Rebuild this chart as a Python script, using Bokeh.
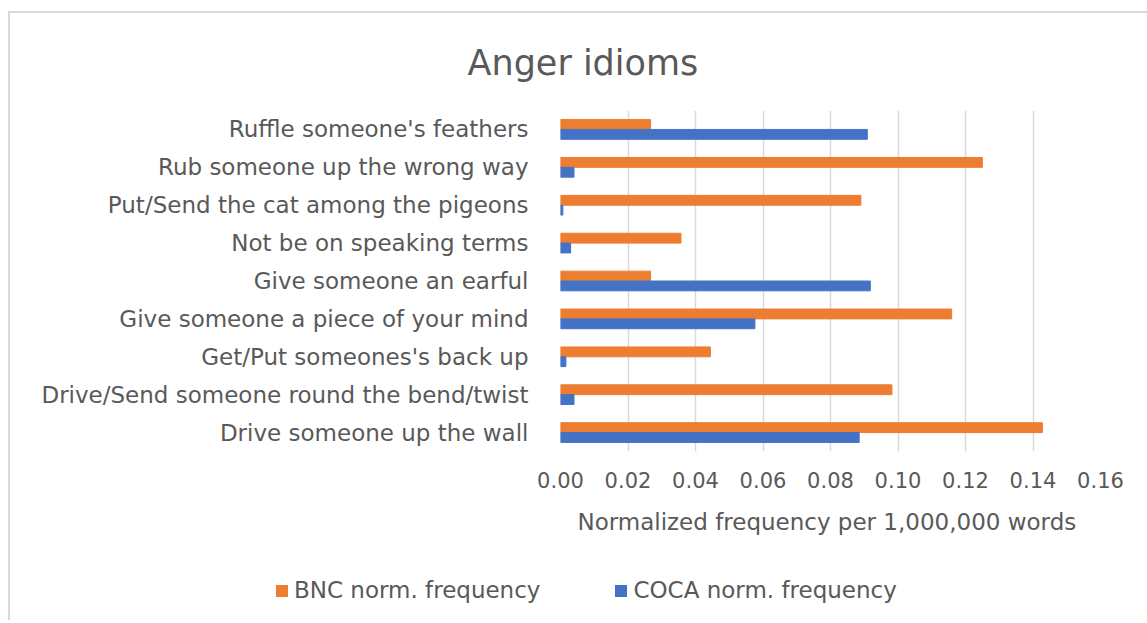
from bokeh.plotting import figure
from bokeh.layouts import column
from bokeh.models import FactorRange, Legend, LegendItem, ColumnDataSource, NumeralTickFormatter, FixedTicker, Title
from bokeh.transform import dodge
from bokeh.embed import file_html
from bokeh.resources import INLINE

categories = [
    "Ruffle someone's feathers",
    "Rub someone up the wrong way",
    "Put/Send the cat among the pigeons",
    "Not be on speaking terms",
    "Give someone an earful",
    "Give someone a piece of your mind",
    "Get/Put someones's back up",
    "Drive/Send someone round the bend/twist",
    "Drive someone up the wall",
]
bnc = [0.0267, 0.125, 0.089, 0.0357, 0.0267, 0.1159, 0.0444, 0.0982, 0.1428]
coca = [0.0909, 0.0040, 0.0007, 0.0030, 0.0918, 0.0576, 0.0016, 0.0040, 0.0885]
x_ticks = [0.0, 0.02, 0.04, 0.06, 0.08, 0.10, 0.12, 0.14, 0.16]
series_names = ["BNC norm. frequency", "COCA norm. frequency"]
series_colors = ["#ED7D31", "#4472C4"]

FONT = "DejaVu Sans"
TXT = "#595959"

src = ColumnDataSource(dict(cat=categories, bnc=bnc, coca=coca))

p = figure(width=1137, height=547, output_backend="svg", toolbar_location=None,
           y_range=FactorRange(factors=categories[::-1]), x_range=(0, 0.16),
           min_border_left=550, min_border_right=47, min_border_top=97, min_border_bottom=109)

p.hbar(y=dodge("cat", 0.13, range=p.y_range), right="bnc", left=0, height=0.26,
       source=src, color=series_colors[0])
p.hbar(y=dodge("cat", -0.13, range=p.y_range), right="coca", left=0, height=0.26,
       source=src, color=series_colors[1])

p.outline_line_color = None
p.ygrid.grid_line_color = None
p.xgrid.grid_line_color = "#d9d9d9"
p.xgrid.grid_line_width = 1.5
p.xaxis.ticker = FixedTicker(ticks=x_ticks)
p.xaxis.formatter = NumeralTickFormatter(format="0.00")
for ax in (p.xaxis[0], p.yaxis[0]):
    ax.axis_line_color = None
    ax.major_tick_line_color = None
    ax.minor_tick_line_color = None
    ax.major_label_text_font = FONT
    ax.major_label_text_color = TXT
p.xaxis.major_label_text_font_size = "21px"
p.yaxis.major_label_text_font_size = "23px"
p.yaxis.major_label_standoff = 26
p.xaxis.major_label_standoff = 14
p.xaxis.axis_label = "Normalized frequency per  1,000,000 words"
p.xaxis.axis_label_text_font = FONT
p.xaxis.axis_label_text_font_size = "23px"
p.xaxis.axis_label_text_font_style = "normal"
p.xaxis.axis_label_text_color = TXT
p.xaxis.axis_label_standoff = 18

title = Title(text="Anger idioms", align="left", offset=-93, text_font=FONT,
              text_font_size="35px", text_color=TXT, text_font_style="normal",
              standoff=55)
p.add_layout(title, "above")

# legend in its own strip below the chart (zero-width key glyphs)
lf = figure(width=1137, height=60, output_backend="svg", toolbar_location=None,
            x_range=(0, 1), y_range=(0, 1), min_border=0)
lf.axis.visible = False
lf.grid.visible = False
lf.outline_line_color = None
items = []
for name, col in zip(series_names, series_colors):
    r = lf.hbar(y=[0.5], right=[0], left=[0], height=0.5, fill_color=col, line_color=None)
    items.append(LegendItem(label=name, renderers=[r]))

if "frame_align" in lf.properties():
    lf.frame_align = False
    p.frame_align = False
legend = Legend(items=items, orientation="horizontal", location=(264, 17),
                label_text_font=FONT, label_text_font_size="23px", label_text_color=TXT,
                glyph_width=15, glyph_height=15, spacing=73, border_line_color=None,
                background_fill_alpha=0, label_standoff=5, padding=0, margin=0)
lf.add_layout(legend, "center")

layout = column(p, lf, spacing=0)
layout.styles = {"border-left": "2px solid #d9d9d9", "border-top": "2px solid #d9d9d9",
                 "margin-left": "8px", "margin-top": "11px"}

open("out.html", "w").write(file_html(layout, INLINE))
